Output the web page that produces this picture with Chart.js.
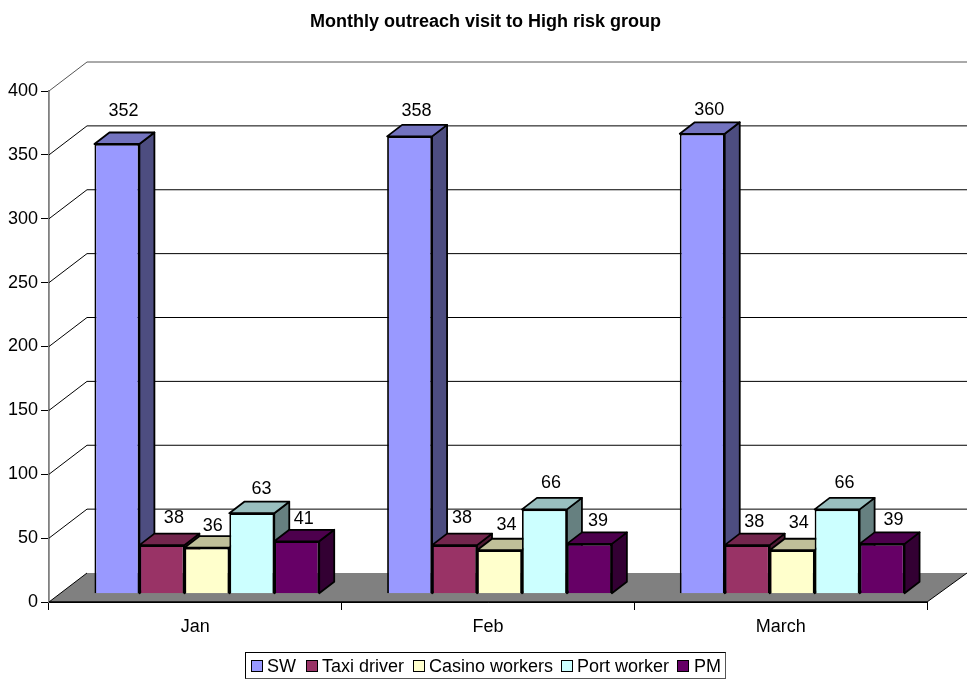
<!DOCTYPE html>
<html>
<head>
<meta charset="utf-8">
<title>Monthly outreach visit to High risk group</title>
<script src="https://cdn.jsdelivr.net/npm/chart.js@4"></script>
<style>
html, body { margin: 0; padding: 0; background: #fff; }
#wrap { position: relative; width: 968px; height: 686px; overflow: hidden; }
#title { position: absolute; left: 0; top: 11px; width: 971px; text-align: center; line-height: 22px;
  font: bold 18px "Liberation Sans", Arial, sans-serif; color: #000; }
#legend { position: absolute; left: 245px; top: 652px; width: 481px; height: 27px; box-sizing: border-box;
  border: 1px solid #000; border-right-color: #555; border-bottom-color: #555;
  font: 18px "Liberation Sans", Arial, sans-serif; color: #000; white-space: nowrap; }
#legend span { position: absolute; top: 3px; line-height: 20px; }
#legend i { position: absolute; top: 7px; width: 10px; height: 10px; border: 1px solid #000; box-sizing: content-box; }
</style>
</head>
<body>
<div id="wrap">
  <canvas id="chart" width="968" height="686"></canvas>
  <div id="title">Monthly outreach visit to High risk group</div>
  <div id="legend"></div>
</div>
<script>
const months = ['Jan', 'Feb', 'March'];
const seriesNames = ['SW', 'Taxi driver', 'Casino workers', 'Port worker', 'PM'];
const sw = [352, 358, 360];
const taxiDriver = [38, 38, 38];
const casinoWorkers = [36, 34, 34];
const portWorker = [63, 66, 66];
const pm = [41, 39, 39];
const seriesValues = [sw, taxiDriver, casinoWorkers, portWorker, pm];
const seriesColors = ['#9999ff', '#993366', '#ffffcc', '#ccffff', '#660066'];

// fake 3d: how far the wall sits behind the axes, and the bars on the floor
const WALL = { x: 38, y: -29 };
const BAR_SHIFT = { x: 11.5, y: -8.3 };
const BAR_DEPTH = { x: 15, y: -11.5 };
// excel put the value labels in odd spots, offsets from the bar front top centre
const labelDx = [[6.5, 7, 7], [12, 7.5, 7], [6, 7, 6.5], [9.7, 6.5, 7.5], [7, 8.5, 11.5]];
const labelDy = [[-33, -25.7, -23.8], [-27.2, -27.2, -23.2], [-21.7, -25.6, -27.6], [-24.2, -26.7, -26.7], [-22.3, -22.9, -23.9]];
const FONT = '"Liberation Sans", Arial, sans-serif';
const EDGE = 1.8;

function shade(hex, f) {
  const n = parseInt(hex.slice(1), 16);
  const c = [n >> 16, (n >> 8) & 255, n & 255].map(v => Math.round(v * f));
  return `rgb(${c[0]},${c[1]},${c[2]})`;
}

function poly(ctx, pts, fill, stroke, lw) {
  ctx.beginPath();
  pts.forEach((p, i) => i ? ctx.lineTo(p[0], p[1]) : ctx.moveTo(p[0], p[1]));
  ctx.closePath();
  if (fill) { ctx.fillStyle = fill; ctx.fill(); }
  if (stroke) { ctx.strokeStyle = stroke; ctx.lineWidth = lw; ctx.lineJoin = 'round'; ctx.stroke(); }
}

function drawWalls(chart) {
  const { ctx, chartArea: a, scales: { y } } = chart;
  const backRight = a.right + WALL.x + 2;
  ctx.lineWidth = 1;
  y.ticks.forEach(t => {
    if (t.value === 0) return;
    const py = y.getPixelForValue(t.value);
    ctx.beginPath();
    ctx.moveTo(a.left, py);
    ctx.lineTo(a.left + WALL.x, py + WALL.y);
    ctx.lineTo(backRight, py + WALL.y);
    ctx.strokeStyle = t.value === 400 ? '#555' : '#000';
    ctx.stroke();
  });
  poly(ctx, [[a.left, a.bottom], [a.right, a.bottom], [backRight, a.bottom + WALL.y], [a.left + WALL.x, a.bottom + WALL.y]], '#808080');
  ctx.strokeStyle = '#000';
  ctx.lineWidth = 1;
  ctx.beginPath();
  ctx.moveTo(a.left + WALL.x, a.bottom + WALL.y);
  ctx.lineTo(a.left, a.bottom);
  ctx.moveTo(a.right, a.bottom);
  ctx.lineTo(backRight, a.bottom + WALL.y);
  ctx.stroke();
}

const box3d = {
  id: 'box3d',
  // chart.js paints the last dataset first, the boxes need left to right so they overlap properly
  beforeDatasetsDraw(chart) {
    const { ctx } = chart;
    ctx.save();
    drawWalls(chart);
    ctx.translate(BAR_SHIFT.x, BAR_SHIFT.y);
    seriesNames.forEach((name, s) => {
      const meta = chart.getDatasetMeta(s);
      meta.data.forEach(bar => {
        const l = bar.x - bar.width / 2, r = bar.x + bar.width / 2, t = bar.y, b = bar.base;
        const dx = BAR_DEPTH.x, dy = BAR_DEPTH.y;
        poly(ctx, [[r, t], [r + dx, t + dy], [r + dx, b + dy], [r, b]], shade(seriesColors[s], 0.5), '#000', EDGE);
        poly(ctx, [[l, t], [l + dx, t + dy], [r + dx, t + dy], [r, t]], shade(seriesColors[s], 0.75), '#000', EDGE);
      });
      meta.controller.draw();
    });
    ctx.restore();
    return false;
  },
  afterDraw(chart) {
    const { ctx, chartArea: a } = chart;
    ctx.save();
    ctx.strokeStyle = '#000';
    ctx.lineWidth = 1.3;
    ctx.beginPath();
    ctx.moveTo(a.left, a.bottom);
    ctx.lineTo(a.right, a.bottom);
    ctx.stroke();
    ctx.fillStyle = '#000';
    ctx.font = '18px ' + FONT;
    ctx.textAlign = 'center';
    ctx.textBaseline = 'middle';
    seriesValues.forEach((vals, s) => {
      chart.getDatasetMeta(s).data.forEach((bar, i) => {
        ctx.fillText(vals[i], bar.x + BAR_SHIFT.x + labelDx[s][i], bar.y + BAR_SHIFT.y + labelDy[s][i]);
      });
    });
    ctx.restore();
  }
};

new Chart(document.getElementById('chart').getContext('2d'), {
  type: 'bar',
  plugins: [box3d],
  data: {
    labels: months,
    datasets: seriesNames.map((name, i) => ({
      label: name,
      data: seriesValues[i],
      backgroundColor: seriesColors[i],
      borderColor: '#000',
      borderWidth: EDGE
    }))
  },
  options: {
    responsive: false,
    animation: false,
    layout: { padding: { left: 0, right: 41, top: 91, bottom: 0 } },
    datasets: { bar: { categoryPercentage: 0.768, barPercentage: 1 } },
    plugins: {
      legend: { display: false },
      tooltip: { enabled: false },
      title: { display: false }
    },
    scales: {
      x: {
        afterFit(s) { s.height = 84; },
        grid: { drawOnChartArea: false, color: '#000', tickLength: 8, tickWidth: 1 },
        border: { color: '#000', width: 1 },
        ticks: { color: '#000', padding: 6, font: { family: FONT, size: 18 }, maxRotation: 0 }
      },
      y: {
        min: 0,
        max: 400,
        afterFit(s) { s.width = 49; },
        grid: { drawOnChartArea: false, color: '#000', tickLength: 8, tickWidth: 1 },
        border: { color: '#808080', width: 1.8 },
        ticks: { stepSize: 50, color: '#000', padding: 3, font: { family: FONT, size: 18 } }
      }
    }
  }
});

// legend as html so the swatch to text gap can match
const legendX = [[5, 21], [60, 76], [167, 183], [315, 331], [431, 448]];
const legend = document.getElementById('legend');
seriesNames.forEach((name, i) => {
  const swatch = document.createElement('i');
  swatch.style.left = legendX[i][0] + 'px';
  swatch.style.background = seriesColors[i];
  const tx = document.createElement('span');
  tx.style.left = legendX[i][1] + 'px';
  tx.textContent = name;
  legend.append(swatch, tx);
});
</script>
</body>
</html>
